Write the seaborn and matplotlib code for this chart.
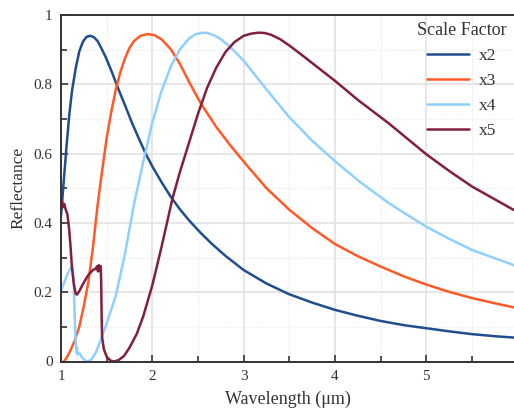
import numpy as np
import pandas as pd
import matplotlib
matplotlib.use("Agg")
import matplotlib.pyplot as plt
import seaborn as sns
from matplotlib.ticker import MultipleLocator, FuncFormatter, FixedLocator

# ---- data ----
x2_wl = [1.0, 1.03, 1.06, 1.09, 1.12, 1.16, 1.2, 1.24, 1.28, 1.32, 1.36, 1.4, 1.44, 1.487, 1.55,
         1.626, 1.7, 1.78, 1.85, 1.925, 2.0, 2.1, 2.2, 2.3, 2.4, 2.526, 2.65, 2.8, 3.0, 3.25,
         3.5, 3.75, 4.0, 4.25, 4.5, 4.75, 5.0, 5.25, 5.5, 5.75, 5.96]
x2_r = [0.42, 0.52, 0.62, 0.71, 0.78, 0.845, 0.895, 0.923, 0.937, 0.94, 0.936, 0.925, 0.905, 0.88, 0.84,
        0.788, 0.74, 0.687, 0.645, 0.601, 0.563, 0.518, 0.476, 0.44, 0.408, 0.372, 0.34, 0.305, 0.264, 0.225,
        0.194, 0.17, 0.149, 0.132, 0.117, 0.105, 0.096, 0.087, 0.079, 0.073, 0.069]

x3_wl = [1.03, 1.06, 1.1, 1.15, 1.2, 1.25, 1.3, 1.35, 1.4, 1.45, 1.5, 1.55, 1.6, 1.65, 1.7, 1.75,
         1.8, 1.87, 1.95, 2.02, 2.1, 2.2, 2.3, 2.4, 2.53, 2.7, 2.85, 3.0, 3.25, 3.5, 3.75, 4.0,
         4.25, 4.5, 4.75, 5.0, 5.25, 5.5, 5.75, 5.96]
x3_r = [0.0, 0.01, 0.03, 0.06, 0.1, 0.16, 0.23, 0.33, 0.45, 0.55, 0.645, 0.72, 0.785, 0.835, 0.875, 0.905,
        0.925, 0.94, 0.945, 0.942, 0.93, 0.902, 0.86, 0.808, 0.745, 0.677, 0.625, 0.577, 0.5, 0.438, 0.385,
        0.339, 0.304, 0.274, 0.246, 0.222, 0.201, 0.183, 0.168, 0.156]

x4_wl = [1.0, 1.03, 1.06, 1.09, 1.12, 1.13, 1.14, 1.15, 1.16, 1.17, 1.175, 1.18, 1.2, 1.23, 1.26,
         1.29, 1.33, 1.38, 1.43, 1.5, 1.6, 1.7, 1.8, 1.9, 2.0, 2.1, 2.2, 2.3, 2.4, 2.47, 2.545,
         2.6, 2.68, 2.75, 2.85, 3.0, 3.25, 3.5, 3.75, 4.0, 4.28, 4.59, 4.75, 5.0, 5.25, 5.5,
         5.75, 5.96]
x4_r = [0.205, 0.225, 0.245, 0.262, 0.274, 0.27, 0.22, 0.13, 0.06, 0.025, 0.04, 0.02, 0.025, 0.012, 0.004,
        0.0, 0.005, 0.025, 0.058, 0.11, 0.19, 0.31, 0.455, 0.575, 0.69, 0.78, 0.85, 0.9, 0.932, 0.944, 0.949,
        0.948, 0.941, 0.93, 0.909, 0.868, 0.785, 0.705, 0.637, 0.578, 0.517, 0.457, 0.43, 0.389, 0.354, 0.322,
        0.298, 0.278]

x5_wl = [1.0, 1.01, 1.02, 1.035, 1.05, 1.07, 1.09, 1.105, 1.12, 1.14, 1.16, 1.175, 1.2, 1.25, 1.3,
         1.35, 1.38, 1.395, 1.405, 1.415, 1.425, 1.435, 1.44, 1.445, 1.45, 1.47, 1.5, 1.54, 1.58,
         1.63, 1.69, 1.75, 1.83, 1.9, 2.0, 2.1, 2.22, 2.3, 2.4, 2.5, 2.6, 2.7, 2.8, 2.9, 3.0,
         3.08, 3.16, 3.23, 3.3, 3.4, 3.5, 3.65, 3.8, 4.0, 4.25, 4.59, 5.0, 5.25, 5.5, 5.75, 5.96]
x5_r = [0.45, 0.465, 0.445, 0.455, 0.44, 0.425, 0.38, 0.33, 0.27, 0.225, 0.196, 0.193, 0.203, 0.228, 0.25,
        0.264, 0.268, 0.275, 0.26, 0.278, 0.262, 0.275, 0.23, 0.13, 0.07, 0.035, 0.014, 0.003, 0.0,
        0.004, 0.016, 0.04, 0.08, 0.13, 0.22, 0.33, 0.47, 0.545, 0.63, 0.715, 0.79, 0.848, 0.893, 0.922, 0.94,
        0.946, 0.949, 0.948, 0.943, 0.93, 0.912, 0.882, 0.851, 0.81, 0.755, 0.687, 0.598, 0.55, 0.505, 0.468,
        0.437]

series_names = ["x2", "x3", "x4", "x5"]
series_colors = ["#1f4e8c", "#ff5a26", "#8fd0ff", "#821f3c"]
x_ticks = [1, 2, 3, 4, 5]
y_ticks = [0, 0.2, 0.4, 0.6, 0.8, 1]

frames = []
for name, wl, r in zip(series_names, [x2_wl, x3_wl, x4_wl, x5_wl], [x2_r, x3_r, x4_r, x5_r]):
    frames.append(pd.DataFrame({"wl": wl, "R": r, "Scale Factor": name}))
df = pd.concat(frames, ignore_index=True)

sns.set_theme(style="ticks")
plt.rcParams['font.family'] = ['Liberation Serif', 'DejaVu Serif']

fig = plt.figure(figsize=(5.14, 4.09), dpi=100)
ax = fig.add_axes([61 / 514, 1 - 361.5 / 409, (514 - 61) / 514, (361.5 - 15) / 409])

sns.lineplot(data=df, x="wl", y="R", hue="Scale Factor", palette=series_colors,
             estimator=None, sort=False, linewidth=1.8, ax=ax)

ax.set_xlim(1, 5.96)
ax.set_ylim(0, 1)
ax.xaxis.set_major_locator(FixedLocator(x_ticks))
ax.yaxis.set_major_locator(FixedLocator(y_ticks))
ax.xaxis.set_minor_locator(MultipleLocator(0.5))
ax.yaxis.set_minor_locator(MultipleLocator(0.1))
ax.yaxis.set_major_formatter(FuncFormatter(lambda v, p: f"{v:g}"))
ax.xaxis.set_major_formatter(FuncFormatter(lambda v, p: f"{v:g}"))

ax.grid(True, which="major", color="#e2e2e2", linewidth=1.2, linestyle="-")
ax.grid(True, which="minor", color="#e6e6e6", linewidth=0.8, linestyle=(0, (1, 1.5)))
ax.set_axisbelow(True)

for s in ["top", "left", "bottom"]:
    ax.spines[s].set_color("#333333")
    ax.spines[s].set_linewidth(1.4)
ax.spines["right"].set_visible(False)

ax.tick_params(which="both", direction="in", top=False, right=False, colors="#333333",
               labelcolor="#333333", labelsize=11, width=1.2, pad=6)
ax.tick_params(which="major", length=5)
ax.tick_params(which="minor", length=4)

ax.set_xlabel("Wavelength (μm)", fontsize=13, color="#333333", labelpad=6)
ax.set_ylabel("Reflectance", fontsize=12.5, color="#333333", labelpad=5)

leg = ax.legend(title="Scale Factor", loc="upper center", bbox_to_anchor=(462 / 514, 1 - 19 / 409),
                bbox_transform=fig.transFigure, frameon=False, fontsize=12.5, title_fontsize=13,
                handlelength=2.4, handletextpad=0.6, labelspacing=0.5, borderaxespad=0.0,
                borderpad=0.2)
for t in leg.get_texts():
    t.set_color("#333333")
leg.get_title().set_color("#333333")

fig.savefig("out.png", dpi=100)
